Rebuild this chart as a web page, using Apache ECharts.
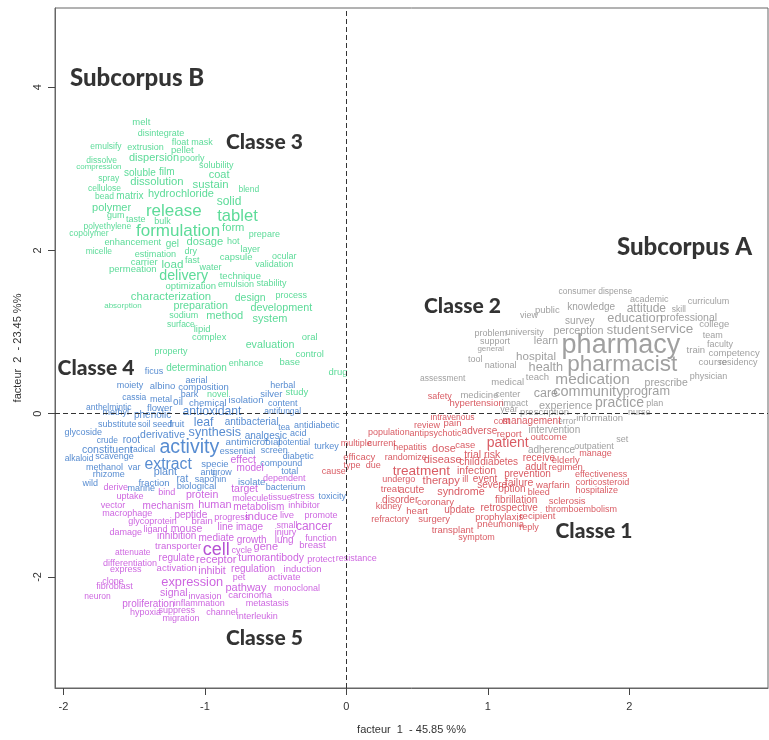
<!DOCTYPE html>
<html>
<head>
<meta charset="utf-8">
<script src="https://cdn.jsdelivr.net/npm/echarts@6/dist/echarts.min.js"></script>
<style>html,body{margin:0;padding:0;background:#fff}#c{width:769px;height:740px}</style>
</head>
<body>
<div id="c"></div>
<script>
// word, factor 1, factor 2, weight
const classe3 = [
["melt",-1.45,3.57,9.5],["disintegrate",-1.31,3.43,9],["emulsify",-1.70,3.27,8.5],["extrusion",-1.42,3.26,9],
["float mask",-1.09,3.32,9],["pellet",-1.16,3.23,9.5],["dissolve",-1.73,3.10,8.5],["dispersion",-1.36,3.13,11],
["poorly",-1.09,3.13,9],["compression",-1.75,3.02,8],["solubility",-0.92,3.04,9],["soluble",-1.46,2.95,10],
["film",-1.27,2.96,10],["coat",-0.90,2.93,11],["spray",-1.68,2.88,8.5],["dissolution",-1.34,2.84,11.3],
["sustain",-0.96,2.80,11.4],["cellulose",-1.71,2.76,8.5],["blend",-0.69,2.74,8.5],["bead",-1.71,2.66,8.5],
["matrix",-1.53,2.67,10],["hydrochloride",-1.17,2.69,11],["solid",-0.83,2.60,12],["polymer",-1.66,2.52,11],
["release",-1.22,2.48,17],["gum",-1.63,2.43,9],["taste",-1.49,2.38,9],["bulk",-1.30,2.36,9],
["tablet",-0.77,2.42,16.6],["polyethylene",-1.69,2.29,8.5],["formulation",-1.19,2.23,17],["form",-0.80,2.27,11.2],
["copolymer",-1.82,2.20,8.5],["prepare",-0.58,2.19,9],["enhancement",-1.51,2.10,9.4],["gel",-1.23,2.08,10],
["dosage",-1.00,2.10,11.2],["hot",-0.80,2.11,9],["micelle",-1.75,1.98,8.5],["estimation",-1.35,1.95,9.1],
["dry",-1.10,1.99,9],["layer",-0.68,2.01,9],["carrier",-1.43,1.85,9.5],["load",-1.23,1.83,11.6],
["fast",-1.09,1.88,9],["capsule",-0.78,1.92,9.5],["ocular",-0.44,1.92,9],["permeation",-1.51,1.77,9.5],
["water",-0.96,1.79,9],["validation",-0.51,1.83,9],["delivery",-1.15,1.68,14.2],["technique",-0.75,1.68,9.5],
["optimization",-1.10,1.56,9.5],["emulsion",-0.78,1.58,9],["stability",-0.53,1.59,9],["characterization",-1.24,1.43,11.4],
["design",-0.68,1.42,10.5],["process",-0.39,1.45,9],["absorption",-1.58,1.32,8],["preparation",-1.03,1.32,10.8],
["development",-0.46,1.29,10.8],["sodium",-1.15,1.20,9],["method",-0.86,1.20,11.1],["system",-0.54,1.16,11],
["surface",-1.17,1.09,8.5],["lipid",-1.02,1.03,9.5],["complex",-0.97,0.94,9.2],["oral",-0.26,0.94,9.5],
["evaluation",-0.54,0.84,10.7],["property",-1.24,0.76,9],["control",-0.26,0.73,9.5],["determination",-1.06,0.56,10],
["enhance",-0.71,0.61,9],["base",-0.40,0.63,9.5],["drug",-0.06,0.51,9.5],["novel",-0.91,0.24,9],["study",-0.35,0.26,9.5]
];
const classe4 = [
["ficus",-1.36,0.52,9],["aerial",-1.06,0.41,9],["moiety",-1.53,0.34,9],["albino",-1.30,0.34,9.5],
["composition",-1.01,0.32,9.5],["herbal",-0.45,0.34,9],["silver",-0.53,0.24,9.5],["cassia",-1.50,0.20,8.5],
["metal",-1.31,0.17,9],["oil",-1.19,0.14,10],["bark",-1.11,0.23,9],["chemical",-0.98,0.13,9.5],
["isolation",-0.71,0.16,9.5],["content",-0.45,0.12,9],["anthelmintic",-1.68,0.08,8.5],["flower",-1.32,0.07,9.5],
["methyl",-1.63,0.02,9],["phenolic",-1.37,-0.02,10],["antioxidant",-0.95,0.02,12.2],["antifungal",-0.45,0.02,8.5],
["substitute",-1.62,-0.13,9],["soil",-1.43,-0.14,8.5],["seed",-1.30,-0.13,9],["fruit",-1.20,-0.13,9],
["leaf",-1.01,-0.11,12.2],["antibacterial",-0.67,-0.11,10],["tea",-0.44,-0.17,8.5],["antidiabetic",-0.21,-0.15,9],
["glycoside",-1.86,-0.23,9],["derivative",-1.30,-0.26,10.5],["synthesis",-0.93,-0.23,12.6],["analgesic",-0.57,-0.27,10],
["acid",-0.34,-0.24,9],["crude",-1.69,-0.33,8.5],["root",-1.52,-0.33,10],["activity",-1.11,-0.41,19.6],
["antimicrobial",-0.66,-0.35,9.8],["potential",-0.37,-0.35,8.5],["turkey",-0.14,-0.40,9],["constituent",-1.69,-0.44,10.5],
["radical",-1.44,-0.44,8.5],["essential",-0.77,-0.46,9],["screen",-0.51,-0.45,9],["alkaloid",-1.89,-0.55,8.5],
["scavenge",-1.64,-0.53,9],["diabetic",-0.34,-0.52,9],["extract",-1.26,-0.62,15.8],["specie",-0.93,-0.62,9.5],
["compound",-0.46,-0.61,9],["methanol",-1.71,-0.66,9],["var",-1.50,-0.66,9],["plant",-1.28,-0.72,10.8],
["anti",-0.98,-0.72,9],["grow",-0.88,-0.72,9],["total",-0.40,-0.71,9],["rhizome",-1.68,-0.75,9],
["wild",-1.81,-0.85,9],["fraction",-1.36,-0.85,9.5],["rat",-1.16,-0.80,10],["saponin",-0.96,-0.80,9],
["isolate",-0.67,-0.84,9.5],["biological",-1.06,-0.89,9.5],["marine",-1.45,-0.92,9],["bacterium",-0.43,-0.91,9],
["toxicity",-0.10,-1.02,9]
];
const classe5 = [
["effect",-0.73,-0.57,10.5],["model",-0.68,-0.67,10],["dependent",-0.44,-0.79,9],["derive",-1.63,-0.91,9],
["bind",-1.27,-0.97,9],["target",-0.72,-0.92,10.5],["protein",-1.02,-1.00,10.6],["uptake",-1.53,-1.02,9],
["molecule",-0.68,-1.04,9],["tissue",-0.47,-1.03,9],["stress",-0.31,-1.02,9],["vector",-1.65,-1.13,9],
["mechanism",-1.26,-1.13,10],["human",-0.93,-1.12,10.9],["metabolism",-0.62,-1.15,10],["inhibitor",-0.30,-1.13,9],
["macrophage",-1.55,-1.22,9],["peptide",-1.10,-1.24,10],["progress",-0.81,-1.27,9],["induce",-0.60,-1.26,11],
["live",-0.42,-1.25,9.5],["promote",-0.18,-1.25,9],["glycoprotein",-1.37,-1.32,9],["brain",-1.02,-1.32,9.5],
["line image",-0.75,-1.39,10],["small",-0.42,-1.37,9],["cancer",-0.23,-1.39,12],["damage",-1.56,-1.45,9],
["ligand",-1.35,-1.42,9],["mouse",-1.13,-1.41,10.5],["injury",-0.43,-1.45,9],["inhibition",-1.20,-1.50,10],
["mediate",-0.92,-1.52,10],["growth",-0.67,-1.55,10],["lung",-0.44,-1.55,10],["function",-0.18,-1.53,9],
["breast",-0.24,-1.61,9.5],["transporter",-1.19,-1.63,9.5],["cell",-0.92,-1.67,18],["cycle",-0.74,-1.67,9],
["gene",-0.57,-1.63,11],["attenuate",-1.51,-1.70,8.5],["regulate",-1.20,-1.77,10],["receptor",-0.92,-1.79,11],
["tumor",-0.67,-1.77,10.5],["antibody",-0.44,-1.77,10.5],["protect",-0.18,-1.79,9],["resistance",0.07,-1.77,9],
["differentiation",-1.53,-1.83,9],["express",-1.56,-1.91,9],["activation",-1.20,-1.90,9.5],["inhibit",-0.95,-1.93,10.5],
["regulation",-0.66,-1.91,10],["induction",-0.31,-1.91,9.5],["clone",-1.65,-2.05,9],["pet",-0.76,-2.01,9],
["activate",-0.44,-2.01,9.5],["fibroblast",-1.64,-2.12,9],["expression",-1.09,-2.07,12.8],["pathway",-0.71,-2.13,11],
["monoclonal",-0.35,-2.14,9],["neuron",-1.76,-2.24,8.5],["signal",-1.22,-2.20,10.5],["invasion",-1.00,-2.24,9],
["carcinoma",-0.68,-2.23,9.5],["proliferation",-1.40,-2.33,10],["inflammation",-1.04,-2.33,9],["metastasis",-0.56,-2.33,9],
["hypoxia",-1.42,-2.44,9],["suppress",-1.20,-2.41,9],["channel",-0.88,-2.44,9],["interleukin",-0.63,-2.48,9],
["migration",-1.17,-2.51,9]
];
const classe2 = [
["consumer dispense",1.76,1.49,8.5],["academic",2.14,1.40,9],["curriculum",2.56,1.38,9],["public",1.42,1.26,9.5],
["knowledge",1.73,1.30,10],["attitude",2.12,1.29,12],["skill",2.35,1.27,8.5],["view",1.29,1.20,9],
["survey",1.65,1.13,10],["education",2.04,1.17,12.8],["professional",2.42,1.17,10.5],["college",2.60,1.10,9.5],
["problem",1.02,0.98,9],["university",1.26,0.99,9],["perception",1.64,1.01,10.7],["student",1.99,1.02,12.9],
["service",2.30,1.03,13.5],["team",2.59,0.96,9],["support",1.05,0.88,9],["learn",1.41,0.89,10.9],
["pharmacy",1.94,0.83,27],["faculty",2.64,0.85,9],["general",1.02,0.79,8],["hospital",1.34,0.70,11.6],
["train",2.47,0.77,9.5],["competency",2.74,0.74,9.5],["tool",0.91,0.66,9],["national",1.09,0.59,9],
["health",1.41,0.57,12.7],["pharmacist",1.95,0.60,22.5],["course",2.59,0.63,9.5],["residency",2.77,0.63,9],
["assessment",0.68,0.43,8.5],["medical",1.14,0.39,9.5],["teach",1.35,0.45,9.5],["medication",1.74,0.41,15.4],
["prescribe",2.26,0.37,10.5],["physician",2.56,0.45,9],["medicine",0.94,0.23,9.5],["center",1.14,0.23,9],
["care",1.41,0.25,12.5],["community",1.71,0.26,14.5],["program",2.12,0.27,12.7],["impact",1.19,0.13,9],
["experience",1.55,0.10,10.9],["practice",1.93,0.13,14],["plan",2.18,0.13,9],["year",1.15,0.05,9],
["prescription",1.40,0.02,9.5],["nurse",2.07,0.02,9],["error",1.56,-0.10,8.5],["information",1.79,-0.06,9.5],
["intervention",1.47,-0.20,10],["outpatient",1.75,-0.40,9],["set",1.95,-0.32,9],["adherence",1.45,-0.45,10]
];
const classe1 = [
["safety",0.66,0.21,9],["hypertension",0.92,0.13,9.5],["intravenous",0.75,-0.05,8.5],["cost",1.10,-0.10,9],
["management",1.31,-0.09,10],["pain",0.75,-0.12,9.5],["review",0.57,-0.15,9],["population",0.30,-0.23,9],
["antipsychotic",0.63,-0.24,9],["adverse",0.94,-0.22,10],["report",1.15,-0.25,9.5],["multiple",0.07,-0.37,9],
["current",0.25,-0.37,9],["hepatitis",0.45,-0.41,9],["dose",0.69,-0.43,11],["case",0.84,-0.39,9.5],
["patient",1.14,-0.36,14],["outcome",1.43,-0.29,9.5],["efficacy",0.09,-0.53,9.5],["randomize",0.42,-0.54,9],
["disease",0.68,-0.57,11],["trial risk",0.96,-0.51,10.5],["manage",1.76,-0.49,9],["type",0.04,-0.63,9],
["due",0.19,-0.63,9],["child",0.87,-0.60,10],["diabetes",1.08,-0.60,10],["receive",1.36,-0.55,10],
["elderly",1.55,-0.57,9.5],["adult",1.34,-0.65,10],["regimen",1.55,-0.66,9.5],["treatment",0.53,-0.70,13.6],
["infection",0.92,-0.70,10.5],["prevention",1.28,-0.74,10],["effectiveness",1.80,-0.75,9],["undergo",0.37,-0.81,9],
["therapy",0.67,-0.82,11.2],["ill",0.84,-0.80,9],["event",0.98,-0.80,10],["severe",1.03,-0.88,10],
["failure",1.22,-0.85,10.5],["warfarin",1.46,-0.88,9.5],["corticosteroid",1.81,-0.84,9],["treat",0.31,-0.93,9.5],
["acute",0.46,-0.93,10.5],["syndrome",0.81,-0.96,10.8],["option",1.17,-0.92,10],["bleed",1.36,-0.96,9],
["hospitalize",1.77,-0.94,9],["disorder",0.38,-1.06,10],["coronary",0.63,-1.09,9.5],["fibrillation",1.20,-1.06,10],
["sclerosis",1.56,-1.07,9.5],["kidney",0.30,-1.14,9],["heart",0.50,-1.20,9.5],["update",0.80,-1.18,10],
["retrospective",1.15,-1.16,10],["thromboembolism",1.66,-1.17,9],["refractory",0.31,-1.30,9],["surgery",0.62,-1.30,9.5],
["prophylaxis",1.08,-1.27,9.5],["recipient",1.35,-1.26,9.5],["pneumonia",1.09,-1.36,9.5],["reply",1.29,-1.39,9],
["transplant",0.75,-1.43,9.5],["symptom",0.92,-1.52,9],["cause",-0.09,-0.71,9]
];
// annotation text, factor 1, factor 2, weight
const annotations = [
["Subcorpus B",-1.48,4.11,24],["Classe 3",-0.58,3.33,21],["Subcorpus A",2.39,2.04,24],
["Classe 2",0.82,1.32,21],["Classe 4",-1.77,0.56,21],["Classe 5",-0.58,-2.75,21],["Classe 1",1.75,-1.44,21]
];
const xTicks = [-2,-1,0,1,2];
const yTicks = [-2,0,2,4];
const xName = "facteur  1  - 45.85 %%";
const yName = "facteur  2  - 23.45 %%";

const FONT = "'Liberation Sans', Arial, sans-serif";
function wordSeries(arr, color, name) {
  return {
    type: 'scatter', name: name, symbolSize: 0, silent: true, z: 3,
    data: arr.map(d => ({
      name: d[0], value: [d[1], d[2]],
      label: { fontSize: d[3], color: (name === 'c5' && d[3] >= 16) ? '#a326c9' : color }
    })),
    label: {
      show: true, position: 'inside', formatter: p => p.name,
      fontFamily: FONT, color: color, align: 'center', verticalAlign: 'middle',
      textBorderWidth: 0
    },
    labelLayout: { hideOverlap: false }
  };
}
const chart = echarts.init(document.getElementById('c'), null, { renderer: 'canvas' });
const series = [
  wordSeries(classe3, '#34d27f', 'c3'),
  wordSeries(classe4, '#2d6fc6', 'c4'),
  wordSeries(classe5, '#c03ed8', 'c5'),
  wordSeries(classe2, '#888888', 'c2'),
  wordSeries(classe1, '#d0323c', 'c1'),
  {
    type: 'scatter', symbolSize: 0, silent: true, z: 4,
    data: annotations.map(d => ({ name: d[0], value: [d[1], d[2]], label: { fontSize: d[3] } })),
    label: { show: true, position: 'inside', formatter: p => p.name, fontFamily: "Lato, 'Open Sans', sans-serif",
      fontWeight: 900, color: '#000', textBorderWidth: 0, align: 'center', verticalAlign: 'middle' }
  },
  {
    type: 'line', data: [], silent: true, z: 2,
    markLine: {
      silent: true, symbol: 'none', animation: false,
      label: { show: false },
      lineStyle: { color: '#333', type: [5, 3], width: 1 },
      data: [{ xAxis: 0 }, { yAxis: 0 }]
    }
  }
];
chart.setOption({
  animation: false,
  backgroundColor: '#fff',
  grid: { left: 55, right: 1, top: 8, bottom: 49, show: true, borderColor: '#666', borderWidth: 1, backgroundColor: 'transparent' },
  xAxis: {
    type: 'value', min: -2.06, max: 2.98,
    name: xName, nameLocation: 'middle', nameGap: 36,
    nameTextStyle: { fontFamily: FONT, fontSize: 11, color: '#333' },
    axisLine: { show: true, onZero: false, lineStyle: { color: '#666' } },
    axisTick: { show: true, length: 7, customValues: xTicks, lineStyle: { color: '#444' } },
    axisLabel: { customValues: xTicks, margin: 13, fontFamily: FONT, fontSize: 11, color: '#333' },
    splitLine: { show: false }
  },
  yAxis: {
    type: 'value', min: -3.36, max: 4.97,
    name: yName, nameLocation: 'middle', nameGap: 32, nameRotate: 90,
    nameTextStyle: { fontFamily: FONT, fontSize: 11, color: '#333' },
    axisLine: { show: true, onZero: false, lineStyle: { color: '#666' } },
    axisTick: { show: true, length: 7, customValues: yTicks, lineStyle: { color: '#444' } },
    axisLabel: { customValues: yTicks, margin: 12, rotate: 90, fontFamily: FONT, fontSize: 11, color: '#333' },
    splitLine: { show: false }
  },
  series: series
});
</script>
</body>
</html>
